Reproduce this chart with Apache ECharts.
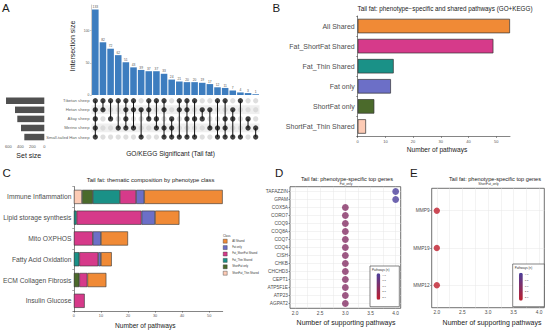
<!DOCTYPE html>
<html><head><meta charset="utf-8">
<script src="https://cdn.jsdelivr.net/npm/echarts@6/dist/echarts.min.js"></script>
<style>html,body{margin:0;padding:0;background:#fff}#c{width:550px;height:331px}</style>
</head><body><div id="c"></div>
<script>
// ---------- Panel A: UpSet ----------
const upsetCounts = [133, 82, 72, 62, 51, 43, 39, 37, 37, 33, 24, 21, 20, 20, 19, 17, 12, 11, 7, 4, 3, 1];
const upsetSets = ['Tibetan sheep', 'Hetan sheep', 'Altay sheep', 'Merino sheep', 'Small-tailed Han sheep'];
const upsetSetSizes = [638, 488, 450, 388, 333];
const upsetMembers = [
  [0,1,2,3,4],[0,1],[0,2],[0,3],[0,1,2,3],[0,1,3],[1,4],[0,1,2],[0,2,3],[0,1,3,4],[2,3,4],
  [0,1,4],[0,1,2,4],[0,2,4],[1,2],[1,3],[0,3,4],[0,2,3,4],[1,2,4],[0,4],[2,3],[3,4]
];
const upsetTicks = [0, 50, 100];
const setSizeTicks = [0, 200, 400, 600];

// ---------- Panel B ----------
const pathwayClasses = ['All Shared', 'Fat_ShortFat Shared', 'Fat_Thin Shared', 'Fat only', 'ShortFat only', 'ShortFat_Thin Shared'];
const pathwayCounts = [55, 49, 13, 12, 6, 3];
const pathwayTicks = [0, 10, 20, 30, 40, 50];

// ---------- Panel C ----------
const themes = ['Immune Inflammation', 'Lipid storage synthesis', 'Mito OXPHOS', 'Fatty Acid Oxidation', 'ECM Collagen Fibrosis', 'Insulin Glucose'];
const themeShortFatThin = [3, 0, 0, 0, 0, 0];
const themeShortFatOnly = [4, 0, 0, 0, 2, 0];
const themeFatThin = [10, 1, 0, 2, 0, 0];
const themeFatShortFat = [6, 24, 7, 7, 3, 4];
const themeFatOnly = [3, 5, 3, 1, 0, 0];
const themeAllShared = [29, 9, 10, 4, 7, 0];
const legendOrder = ['All Shared', 'Fat only', 'Fat_ShortFat Shared', 'Fat_Thin Shared', 'ShortFat only', 'ShortFat_Thin Shared'];

// ---------- Panels D / E ----------
const fatOnlyGenes = ['TAFAZZIN','GPAM','COX5A','CORO7','COQ9','COQ8A','COQ7','COQ4','CISH','CHKB','CHCHD3','CEPT1','ATP5F1E','ATP23','AGPAT2'];
const fatOnlySupport = [4, 4, 3, 3, 3, 3, 3, 3, 3, 3, 3, 3, 3, 3, 3];
const shortFatGenes = ['MMP9', 'MMP19', 'MMP12'];
const shortFatSupport = [2, 2, 2];
const supportTicks = [2.0, 2.5, 3.0, 3.5, 4.0];
const supportGrid = [2.0, 2.25, 2.5, 2.75, 3.0, 3.25, 3.5, 3.75, 4.0];
const legendTicks = ['4.0', '3.5', '3.0', '2.5', '2.0'];

// ---------- styles ----------
const FONT = '"Liberation Sans", Arial, Helvetica, sans-serif';
const classColors = {
  'All Shared': '#f08a36',
  'Fat_ShortFat Shared': '#d63a8a',
  'Fat_Thin Shared': '#1a9187',
  'Fat only': '#6c6fc7',
  'ShortFat only': '#4b6a2b',
  'ShortFat_Thin Shared': '#fdcbb5'
};
const BORDER = '#333';

const chart = echarts.init(document.getElementById('c'), null, {renderer: 'svg', width: 550, height: 331});

function txt(text, x, y, size, o) {
  o = o || {};
  return {type: 'text', x: x, y: y, z: o.z || 10, rotation: o.rotation || 0,
    style: {text: text, fontSize: size, fontFamily: FONT, fill: o.color || '#1a1a1a',
      align: o.align || 'center', verticalAlign: 'middle'}};
}

const colIdx = upsetCounts.map((_, i) => String(i));
const grayDots = [], blackDots = [];
upsetMembers.forEach((m, c) => {
  upsetSets.forEach((_, r) => { (m.indexOf(r) >= 0 ? blackDots : grayDots).push([c, r]); });
});
const segs = upsetMembers.map((m, c) => [c, Math.min.apply(null, m), Math.max.apply(null, m)]);
const nz = a => a.map(v => v === 0 ? '-' : v);

const themeSeriesDef = [
  ['ShortFat_Thin Shared', themeShortFatThin],
  ['ShortFat only', themeShortFatOnly],
  ['Fat_Thin Shared', themeFatThin],
  ['Fat_ShortFat Shared', themeFatShortFat],
  ['Fat only', themeFatOnly],
  ['All Shared', themeAllShared]
];

const axisLineS = {show: true, lineStyle: {color: BORDER, width: 0.6}};
const tickS = {show: true, length: 1.5, lineStyle: {color: BORDER, width: 0.5}};

const series = [
  {type: 'bar', xAxisIndex: 0, yAxisIndex: 0, data: upsetCounts, barCategoryGap: '14%',
   itemStyle: {color: '#3d7dbf'},
   label: {show: true, position: 'top', distance: 1, fontSize: 3.3, color: '#555', fontFamily: FONT}},
  {type: 'scatter', xAxisIndex: 1, yAxisIndex: 1, data: grayDots, symbolSize: 5.3, z: 2,
   itemStyle: {color: '#d6d6d6'}},
  {type: 'custom', xAxisIndex: 1, yAxisIndex: 1, data: segs, z: 3,
   renderItem: function (p, api) {
     const a = api.coord([api.value(0), api.value(1)]);
     const b = api.coord([api.value(0), api.value(2)]);
     return {type: 'line', shape: {x1: a[0], y1: a[1], x2: b[0], y2: b[1]}, style: {stroke: '#111', lineWidth: 1}};
   }},
  {type: 'scatter', xAxisIndex: 1, yAxisIndex: 1, data: blackDots, symbolSize: 5.3, z: 4,
   itemStyle: {color: '#111'}},
  {type: 'bar', xAxisIndex: 2, yAxisIndex: 2, data: upsetSetSizes, barWidth: 6.5,
   itemStyle: {color: '#505050'}},
  {type: 'bar', xAxisIndex: 3, yAxisIndex: 3, barWidth: '72%',
   data: pathwayCounts.map((v, i) => ({value: v, itemStyle: {color: classColors[pathwayClasses[i]]}})),
   itemStyle: {borderColor: BORDER, borderWidth: 0.7}}
];
themeSeriesDef.forEach(d => {
  series.push({type: 'bar', name: d[0], stack: 'c', xAxisIndex: 4, yAxisIndex: 4, barWidth: '68%',
    data: nz(d[1]), itemStyle: {color: classColors[d[0]], borderColor: BORDER, borderWidth: 0.6}});
});
const idxD = series.length;
series.push({type: 'scatter', xAxisIndex: 5, yAxisIndex: 5, symbolSize: 6.8,
  data: fatOnlySupport.map((v, i) => [v, i]), z: 3});
const idxE = series.length;
series.push({type: 'scatter', xAxisIndex: 6, yAxisIndex: 6, symbolSize: 6.4,
  data: shortFatSupport.map((v, i) => [v, i]), z: 3});

const dIdx = fatOnlyGenes.map((_, i) => i);
const eIdx = shortFatGenes.map((_, i) => i);

function geneY(grid, genes, idx) {
  return {gridIndex: grid, type: 'value', inverse: true, min: -0.6, max: genes.length - 0.4,
    axisLine: {show: false}, axisTick: {show: true, customValues: idx, length: 1.5, lineStyle: {color: BORDER, width: 0.5}},
    axisLabel: {customValues: idx, formatter: v => genes[Math.round(v)], fontSize: 4.8, color: '#4d4d4d', margin: 2, fontFamily: FONT},
    splitLine: {show: true, lineStyle: {color: '#e6e6e6', width: 0.5}}};
}
function supportX(grid) {
  return {gridIndex: grid, type: 'value', min: 1.9, max: 4.1,
    axisLine: {show: false}, axisTick: {show: false, customValues: supportGrid},
    axisLabel: {customValues: supportTicks, formatter: v => v.toFixed(1), fontSize: 4.8, color: '#4d4d4d', margin: 2.5, fontFamily: FONT},
    splitLine: {show: true, lineStyle: {color: '#e6e6e6', width: 0.5}}};
}

const gradient = ['#bf1e2d', '#4b3f9c'];

const option = {
  animation: false,
  textStyle: {fontFamily: FONT},
  grid: [
    {left: 91.5, top: 5, width: 168, height: 90},
    {left: 91.5, top: 96.2, width: 168, height: 45.4},
    {left: 5, top: 96.2, width: 39.3, height: 45.4},
    {left: 357.7, top: 16, width: 152.3, height: 120.5},
    {left: 72, top: 186.5, width: 150.7, height: 124.7},
    {left: 290, top: 186.7, width: 110.7, height: 121.6, show: true, borderColor: BORDER, borderWidth: 0.7, backgroundColor: 'transparent'},
    {left: 431.7, top: 188.3, width: 112.6, height: 119.4, show: true, borderColor: BORDER, borderWidth: 0.7, backgroundColor: 'transparent'}
  ],
  xAxis: [
    {gridIndex: 0, type: 'category', data: colIdx, show: false},
    {gridIndex: 1, type: 'category', data: colIdx, show: false},
    {gridIndex: 2, type: 'value', inverse: true, min: 0, max: 655, axisLine: {show: false}, axisTick: {show: false},
     splitLine: {show: false}, axisLabel: {customValues: setSizeTicks, fontSize: 4, color: '#555', margin: 3}},
    {gridIndex: 3, type: 'value', min: 0, max: 55, axisLine: axisLineS,
     axisTick: Object.assign({customValues: pathwayTicks}, tickS), splitLine: {show: false},
     axisLabel: {customValues: pathwayTicks, fontSize: 4, color: '#555', margin: 2.5}},
    {gridIndex: 4, type: 'value', min: 0, max: 55, axisLine: axisLineS,
     axisTick: Object.assign({customValues: pathwayTicks}, tickS), splitLine: {show: false},
     axisLabel: {customValues: pathwayTicks, fontSize: 3.8, color: '#555', margin: 2.5}},
    supportX(5),
    supportX(6)
  ],
  yAxis: [
    {gridIndex: 0, type: 'value', min: 0, max: 140, axisLine: {show: true, lineStyle: {color: '#999', width: 0.5}},
     axisTick: {show: true, customValues: upsetTicks, length: 1.5, lineStyle: {color: '#999', width: 0.5}},
     axisLabel: {customValues: upsetTicks, fontSize: 3.4, color: '#555', margin: 2}, splitLine: {show: false}},
    {gridIndex: 1, type: 'category', data: upsetSets, inverse: true, axisLine: {show: false}, axisTick: {show: false},
     axisLabel: {fontSize: 4.2, color: '#666', margin: 2},
     splitArea: {show: true, areaStyle: {color: ['#ffffff', '#efefef']}}},
    {gridIndex: 2, type: 'category', data: upsetSets, inverse: true, show: false},
    {gridIndex: 3, type: 'category', data: pathwayClasses, inverse: true, axisLine: axisLineS, axisTick: tickS,
     axisLabel: {fontSize: 7, color: '#4d4d4d', margin: 3}},
    {gridIndex: 4, type: 'category', data: themes, inverse: true, axisLine: axisLineS, axisTick: tickS,
     axisLabel: {fontSize: 6.7, color: '#4d4d4d', margin: 2.5}},
    geneY(5, fatOnlyGenes, dIdx),
    geneY(6, shortFatGenes, eIdx)
  ],
  legend: {data: legendOrder.map(n => ({name: n, itemStyle: {color: classColors[n], borderColor: BORDER, borderWidth: 0.4}})),
    orient: 'vertical', left: 223, top: 239, itemWidth: 4, itemHeight: 4,
    itemGap: 2, padding: 0, icon: 'rect', selectedMode: false,
    textStyle: {fontSize: 2.7, color: '#333', fontFamily: FONT}},
  visualMap: [
    {type: 'continuous', seriesIndex: idxD, dimension: 0, min: 2, max: 4, inRange: {color: gradient},
     calculable: false, orient: 'vertical', left: 376.5, top: 273.3, itemWidth: 3.8, itemHeight: 26.5, padding: 0, z: 6},
    {type: 'continuous', seriesIndex: idxE, dimension: 0, min: 2, max: 4, inRange: {color: gradient},
     calculable: false, orient: 'vertical', left: 519, top: 272.7, itemWidth: 3.8, itemHeight: 28, padding: 0, z: 6}
  ],
  series: series
};

// free text & legend boxes
const g = [];
g.push(txt('A', 2, 7.5, 11.5, {align: 'left'}));
g.push(txt('B', 272.5, 7.5, 11.5, {align: 'left'}));
g.push(txt('C', 2.5, 173.3, 11.5, {align: 'left'}));
g.push(txt('D', 275, 173.3, 11.5, {align: 'left'}));
g.push(txt('E', 410, 173.3, 11.5, {align: 'left'}));
g.push(txt('Intersection size', 72, 46, 7, {rotation: Math.PI / 2}));
g.push(txt('Set size', 28.8, 155.5, 7));
g.push(txt('GO/KEGG Significant (Tail fat)', 170.5, 153.5, 6.6));
g.push(txt('Tail fat: phenotype\u2212specific and shared pathways (GO+KEGG)', 445, 8.8, 6.3));
g.push(txt('Number of pathways', 437, 149.5, 6.6));
g.push(txt('Tail fat: thematic composition by phenotype class', 150.6, 180, 5.9));
g.push(txt('Number of pathways', 145.3, 325.3, 6.6));
g.push(txt('Class', 223, 235.5, 3, {align: 'left', color: '#333'}));
g.push(txt('Tail fat: phenotype-specific top genes', 347, 179, 5.6));
g.push(txt('Fat_only', 346, 183.4, 3.3, {color: '#333'}));
g.push(txt('Number of supporting pathways', 346, 322.7, 7));
g.push(txt('Tail fat: phenotype-specific top genes', 495, 179, 5.6));
g.push(txt('ShortFat_only', 488.5, 184, 3.3, {color: '#333'}));
g.push(txt('Number of supporting pathways', 492, 322.7, 7));
// colour-bar legend boxes
[[370, 266, 29.3, 40.7, 376.5, 275, 297], [512.7, 264, 31.6, 42.7, 519, 274.5, 297.5]].forEach(b => {
  g.push({type: 'rect', z: 5, shape: {x: b[0], y: b[1], width: b[2], height: b[3]},
    style: {fill: '#fff', stroke: BORDER, lineWidth: 0.6}});
  g.push(txt('Pathways (n)', b[0] + 2, b[1] + 3.2, 3, {align: 'left', z: 7, color: '#333'}));
  legendTicks.forEach((t, i) => {
    g.push(txt(t, b[4] + 5.8, b[5] + (b[6] - b[5]) * i / (legendTicks.length - 1), 2.5, {align: 'left', z: 7, color: '#444'}));
  });
});
option.graphic = g;

chart.setOption(option);
</script></body></html>
